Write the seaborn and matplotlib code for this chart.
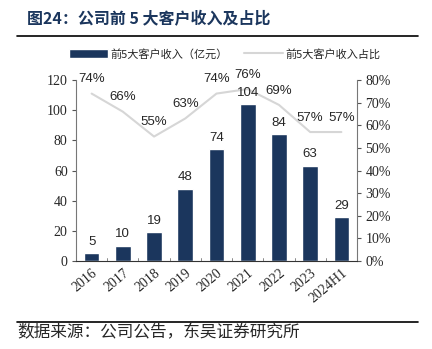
import matplotlib
matplotlib.use("Agg")
import matplotlib.pyplot as plt
import seaborn as sns
import pandas as pd

sns.set_style("white")
plt.rcParams['font.family'] = ['Noto Sans CJK SC', 'DejaVu Sans']

categories = ["2016", "2017", "2018", "2019", "2020", "2021", "2022", "2023", "2024H1"]
revenue = [5, 10, 19, 48, 74, 104, 84, 63, 29]
share = [74, 66, 55, 63, 74, 76, 69, 57, 57]
left_ticks = [0, 20, 40, 60, 80, 100, 120]
right_ticks = [0, 10, 20, 30, 40, 50, 60, 70, 80]

bar_label = "前5大客户收入（亿元）"
line_label = "前5大客户收入占比"
title = "图24：公司前 5 大客户收入及占比"
source = "数据来源：公司公告，东吴证券研究所"

bar_color = "#1B365D"
line_color = "#D6D6D6"

df = pd.DataFrame({"cat": categories, "rev": revenue, "share": share})
df["x"] = range(len(categories))

fig = plt.figure(figsize=(4.32, 3.49), dpi=100)
ax = fig.add_axes([76/432, 1 - 261/349, (357-76)/432, (261-80)/349])
ax2 = ax.twinx()
ax.set_zorder(ax2.get_zorder() + 1)
ax.patch.set_visible(False)

sns.barplot(data=df, x="cat", y="rev", color=bar_color, width=0.5, ax=ax,
            saturation=1, label=bar_label)
if ax.get_legend() is not None:
    ax.get_legend().remove()
sns.lineplot(data=df, x="x", y="share", color=line_color, lw=1.5, ax=ax2,
             label=line_label, legend=False)

ax.set_ylim(0, 120)
ax.set_yticks(left_ticks)
ax.set_xlim(-0.5, len(categories) - 0.5)
ax2.set_ylim(0, 80)
ax2.set_yticks(right_ticks)
ax2.set_yticklabels([f"{t}%" for t in right_ticks])

serif = "Liberation Serif"
for lab in ax.get_yticklabels():
    lab.set_fontfamily(serif)
    lab.set_fontsize(10)
for lab in ax2.get_yticklabels():
    lab.set_fontfamily(serif)
    lab.set_fontsize(10)
ax.set_xticks(range(len(categories)))
ax.set_xticklabels(categories, rotation=40, ha="right", rotation_mode="anchor",
                   fontfamily=serif, fontsize=10)
ax.tick_params(axis="x", length=0, pad=4)
ax.tick_params(axis="y", length=3, direction="out", pad=3, left=True, color="#555555")
ax2.tick_params(axis="y", length=3, direction="out", pad=3, right=True, color="#555555")

ax.set_xlabel("")
ax.set_ylabel("")
ax2.set_xlabel("")
ax2.set_ylabel("")

for a in (ax, ax2):
    a.spines["top"].set_visible(False)
    a.spines["left"].set_color("#777777")
    a.spines["right"].set_color("#777777")
    a.spines["bottom"].set_color("#333333")
ax.spines["right"].set_visible(False)
ax2.spines["left"].set_visible(False)
ax2.spines["bottom"].set_visible(False)

for i in range(len(categories) - 1):
    ax.plot([i + 0.5, i + 0.5], [0, 2], color="#777777", lw=0.6, clip_on=False)

for x, v in zip(df["x"], revenue):
    ax.annotate(f"{v}", (x, v), xytext=(0, 4), textcoords="offset points",
                ha="center", va="bottom", fontsize=9.5, fontfamily="Liberation Sans")
for x, v in zip(df["x"], share):
    ax2.annotate(f"{v}%", (x, v), xytext=(0, 6), textcoords="offset points",
                 ha="center", va="bottom", fontsize=9.5, fontfamily="Liberation Sans")

h1, l1 = ax.get_legend_handles_labels()
h2, l2 = ax2.get_legend_handles_labels()
fig.legend(h1 + h2, l1 + l2, loc="center", bbox_to_anchor=(225/432, 1 - 54/349), ncol=2,
           frameon=False, fontsize=8, handlelength=3.5, handleheight=0.8,
           columnspacing=1.5, handletextpad=0.2)

fig.text(27/432, 1 - 19/349, title, fontsize=11.5, fontweight="bold", color="#1B365D",
         va="center", ha="left")
fig.add_artist(plt.Line2D([17/432, 418/432], [1 - 36/349, 1 - 36/349], color="black", lw=1.2))
fig.add_artist(plt.Line2D([17/432, 418/432], [1 - 322/349, 1 - 322/349], color="black", lw=1.2))
fig.text(17/432, 1 - 333/349, source, fontsize=12, va="center", ha="left")

fig.savefig("out.png", dpi=100)
